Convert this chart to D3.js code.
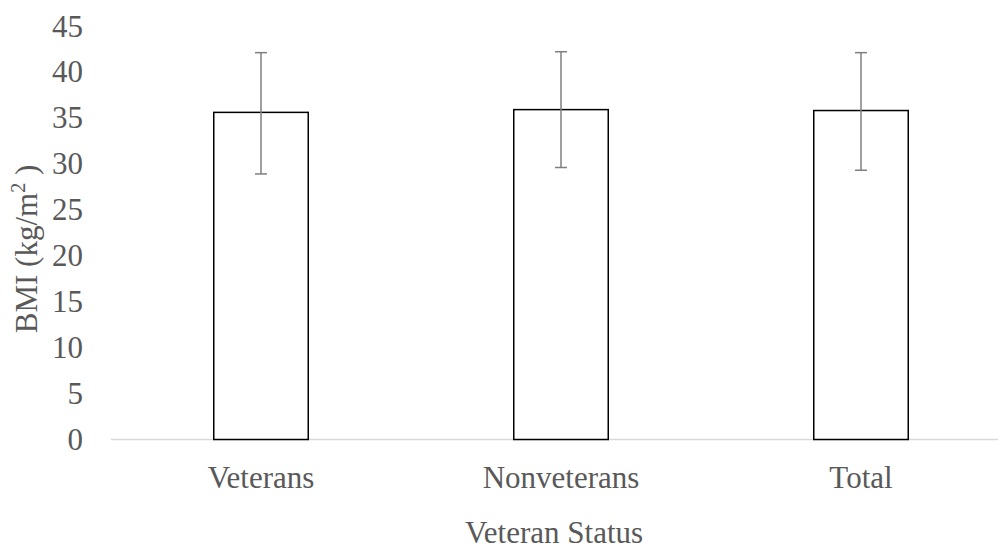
<!DOCTYPE html>
<html><head><meta charset="utf-8">
<script src="https://cdn.jsdelivr.net/npm/d3@7"></script>
<style>body{margin:0;background:#fff}svg{display:block}</style>
</head><body>
<svg id="c" width="998" height="545"></svg>
<script>
const categories = ["Veterans", "Nonveterans", "Total"];
const means = [35.6, 35.9, 35.8];
const errUpper = [42.1, 42.2, 42.1];
const errLower = [28.9, 29.6, 29.3];
const yTicks = [0, 5, 10, 15, 20, 25, 30, 35, 40, 45];

const svg = d3.select("#c");
const font = "Liberation Serif, Times New Roman, serif";
const fs = 31;
const y = d3.scaleLinear().domain([0, 45]).range([439.5, 26]);
const x = d3.scaleBand().domain(categories).range([111, 1011]).paddingInner(0.685).paddingOuter(0.3425);

// axis line
svg.append("line").attr("x1", 111).attr("x2", 1011).attr("y1", y(0)).attr("y2", y(0))
  .attr("stroke", "#d9d9d9").attr("stroke-width", 1.5);

// y tick labels
svg.selectAll(".yt").data(yTicks).enter().append("text")
  .attr("x", 83).attr("y", d => y(d)).attr("dy", "0.34em")
  .attr("text-anchor", "end").style("font-family", font).attr("font-size", fs)
  .attr("fill", "#595959").text(d => d);

// bars
svg.selectAll(".bar").data(categories).enter().append("rect")
  .attr("x", d => x(d)).attr("width", x.bandwidth())
  .attr("y", (d, i) => y(means[i])).attr("height", (d, i) => y(0) - y(means[i]))
  .attr("fill", "#fff").attr("stroke", "#000").attr("stroke-width", 1.5);

// error bars
const eb = svg.selectAll(".eb").data(categories).enter().append("g");
eb.append("line").attr("x1", d => x(d) + x.bandwidth() / 2).attr("x2", d => x(d) + x.bandwidth() / 2)
  .attr("y1", (d, i) => y(errUpper[i])).attr("y2", (d, i) => y(errLower[i]))
  .attr("stroke", "#7f7f7f").attr("stroke-width", 1.5);
[errUpper, errLower].forEach(arr => {
  eb.append("line").attr("x1", d => x(d) + x.bandwidth() / 2 - 6).attr("x2", d => x(d) + x.bandwidth() / 2 + 6)
    .attr("y1", (d, i) => y(arr[i])).attr("y2", (d, i) => y(arr[i]))
    .attr("stroke", "#7f7f7f").attr("stroke-width", 1.5);
});

// x labels
svg.selectAll(".xl").data(categories).enter().append("text")
  .attr("x", d => x(d) + x.bandwidth() / 2).attr("y", 488)
  .attr("text-anchor", "middle").style("font-family", font).attr("font-size", fs)
  .attr("fill", "#595959").text(d => d);

// axis titles
svg.append("text").attr("x", 554).attr("y", 543).attr("text-anchor", "middle")
  .style("font-family", font).attr("font-size", fs).attr("fill", "#595959").text("Veteran Status");

const yt = svg.append("text").attr("transform", "translate(37,249) rotate(-90)")
  .attr("text-anchor", "middle").style("font-family", font).attr("font-size", fs).attr("fill", "#595959");
yt.append("tspan").text("BMI (kg/m");
yt.append("tspan").attr("font-size", 20).attr("dy", -12).text("2");
yt.append("tspan").attr("dy", 12).text(" )");
</script>
</body></html>
